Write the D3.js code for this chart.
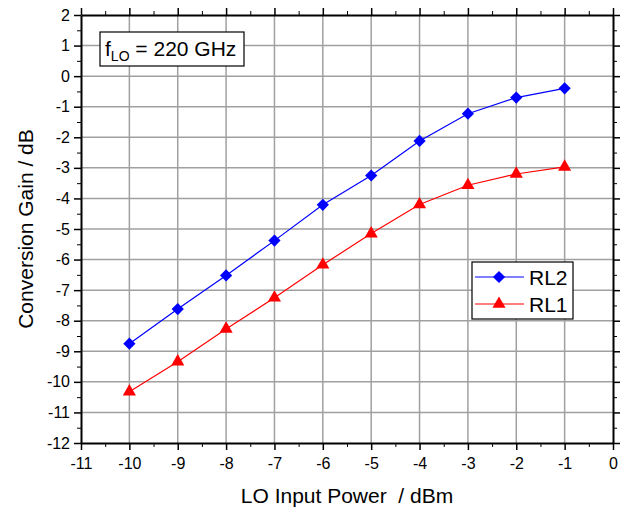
<!DOCTYPE html>
<html>
<head>
<meta charset="utf-8">
<script src="https://cdn.jsdelivr.net/npm/d3@7"></script>
<style>
  body { margin: 0; background: #fff; }
  text { font-family: "Liberation Sans", Arial, sans-serif; white-space: pre; }
</style>
</head>
<body>
<div id="chart"></div>
<script>
const loPower = [-10, -9, -8, -7, -6, -5, -4, -3, -2, -1];
const rl2 = [-8.75, -7.62, -6.52, -5.38, -4.21, -3.25, -2.12, -1.23, -0.70, -0.40];
const rl1 = [-10.32, -9.34, -8.27, -7.25, -6.17, -5.15, -4.20, -3.57, -3.20, -2.97];
const xTicks = d3.range(-11, 1);
const yTicks = d3.range(-12, 3);

const width = 630, height = 511;
const margin = {left: 81, right: 17, top: 15, bottom: 68};

const svg = d3.select("#chart").append("svg")
  .attr("width", width).attr("height", height);

const x = d3.scaleLinear().domain([-11, 0]).range([margin.left, width - margin.right]);
const y = d3.scaleLinear().domain([-12, 2]).range([height - margin.bottom, margin.top]);

// grid
const grid = svg.append("g").attr("stroke", "#a0a0a0").attr("stroke-width", 1.5);
grid.selectAll(".gx").data(xTicks.slice(1, -1)).join("line")
  .attr("x1", d => x(d)).attr("x2", d => x(d))
  .attr("y1", y(2)).attr("y2", y(-12));
grid.selectAll(".gy").data(yTicks.slice(1, -1)).join("line")
  .attr("y1", d => y(d)).attr("y2", d => y(d))
  .attr("x1", x(-11)).attr("x2", x(0));

// axes
const minorX = d3.range(-10.5, 0, 1);
const minorY = d3.range(-11.5, 2, 1);

function styleAxis(g) {
  g.select(".domain").attr("stroke-width", 2);
  g.selectAll(".tick line").attr("stroke-width", 1.5);
  g.selectAll("text").attr("font-size", 16).attr("fill", "#000");
}

svg.append("g").attr("transform", `translate(0,${y(-12)})`)
  .call(d3.axisBottom(x).tickValues(xTicks).tickSize(7).tickSizeOuter(0).tickPadding(8))
  .call(styleAxis);
svg.append("g").attr("transform", `translate(0,${y(-12)})`)
  .call(d3.axisBottom(x).tickValues(minorX).tickSize(4).tickFormat(""))
  .call(g => g.select(".domain").remove());
svg.append("g").attr("transform", `translate(0,${y(2)})`)
  .call(d3.axisTop(x).tickValues(xTicks).tickSize(7).tickSizeOuter(0).tickFormat(""))
  .call(styleAxis);
svg.append("g").attr("transform", `translate(0,${y(2)})`)
  .call(d3.axisTop(x).tickValues(minorX).tickSize(4).tickFormat(""))
  .call(g => g.select(".domain").remove());

svg.append("g").attr("transform", `translate(${x(-11)},0)`)
  .call(d3.axisLeft(y).tickValues(yTicks).tickSize(7).tickSizeOuter(0).tickPadding(4))
  .call(styleAxis);
svg.append("g").attr("transform", `translate(${x(-11)},0)`)
  .call(d3.axisLeft(y).tickValues(minorY).tickSize(4).tickFormat(""))
  .call(g => g.select(".domain").remove());
svg.append("g").attr("transform", `translate(${x(0)},0)`)
  .call(d3.axisRight(y).tickValues(yTicks).tickSize(7).tickSizeOuter(0).tickFormat(""))
  .call(styleAxis);
svg.append("g").attr("transform", `translate(${x(0)},0)`)
  .call(d3.axisRight(y).tickValues(minorY).tickSize(4).tickFormat(""))
  .call(g => g.select(".domain").remove());

// reference uses a plain hyphen for negatives
svg.selectAll(".tick text").text(function () { return this.textContent.replace("−", "-"); });

// series
const series = [
  {name: "RL2", values: rl2, color: "#0000ff", symbol: d3.symbolSquare, size: 75, rot: 45},
  {name: "RL1", values: rl1, color: "#ff0000", symbol: d3.symbolTriangle, size: 75, rot: 0}
];

const line = d3.line().x(d => x(d[0])).y(d => y(d[1]));

series.forEach(s => {
  const pts = loPower.map((p, i) => [p, s.values[i]]);
  svg.append("path").datum(pts)
    .attr("fill", "none").attr("stroke", s.color).attr("stroke-width", 1.2)
    .attr("d", line);
  svg.append("g").selectAll("path").data(pts).join("path")
    .attr("transform", d => `translate(${x(d[0])},${y(d[1])}) rotate(${s.rot})`)
    .attr("d", d3.symbol().type(s.symbol).size(s.size))
    .attr("fill", s.color);
});

// legend
const lg = svg.append("g").attr("transform", "translate(472,262)");
lg.append("rect").attr("width", 101).attr("height", 57)
  .attr("fill", "#fff").attr("stroke", "#000").attr("stroke-width", 1.2);
series.forEach((s, i) => {
  const cy = 15 + i * 27;
  lg.append("line").attr("x1", 3).attr("x2", 52).attr("y1", cy).attr("y2", cy)
    .attr("stroke", s.color).attr("stroke-width", 1.2);
  lg.append("path").attr("transform", `translate(27,${cy}) rotate(${s.rot})`)
    .attr("d", d3.symbol().type(s.symbol).size(s.size)).attr("fill", s.color);
  lg.append("text").attr("x", 57).attr("y", cy).attr("dy", "0.36em")
    .attr("font-size", 21).text(s.name);
});

// annotation
const an = svg.append("g").attr("transform", "translate(100,32)");
an.append("rect").attr("width", 144).attr("height", 34)
  .attr("fill", "#fff").attr("stroke", "#000").attr("stroke-width", 1.2);
const at = an.append("text").attr("x", 5).attr("y", 24).attr("font-size", 21);
at.append("tspan").text("f");
at.append("tspan").attr("font-size", 14).attr("dy", 5).text("LO");
at.append("tspan").attr("dy", -5).text(" = 220 GHz");

// axis titles
svg.append("text").attr("x", (x(-11) + x(0)) / 2).attr("y", 503)
  .attr("text-anchor", "middle").attr("font-size", 21).text("LO Input Power  / dBm");
svg.append("text").attr("transform", `translate(33,${(y(2) + y(-12)) / 2}) rotate(-90)`)
  .attr("text-anchor", "middle").attr("font-size", 21).text("Conversion Gain / dB");
</script>
</body>
</html>
